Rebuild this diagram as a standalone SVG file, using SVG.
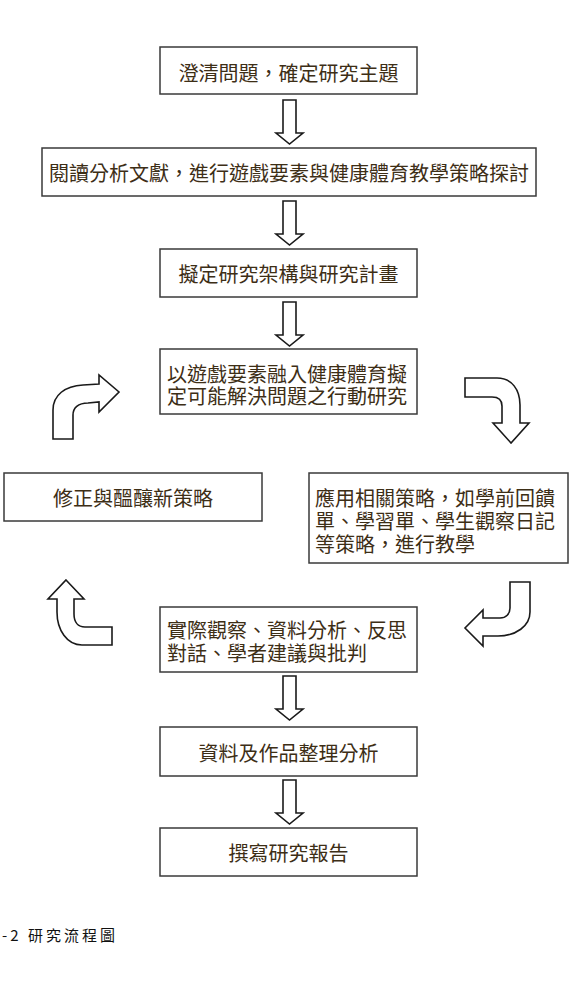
<svg xmlns="http://www.w3.org/2000/svg" width="571" height="988" viewBox="0 0 571 988">
  <style>
    .box { fill: #ffffff; stroke: #3a3a3a; stroke-width: 1.5; }
    .lbl { font-family: "Noto Sans CJK TC", "Noto Sans CJK SC", sans-serif; font-size: 20px; fill: #3d2e16; }
    .mid { text-anchor: middle; dominant-baseline: central; }
    .row { dominant-baseline: central; }
    .arrow { fill: #ffffff; stroke: #1a1a1a; stroke-width: 1.6; stroke-linejoin: miter; }
    .cap { font-family: "Noto Sans CJK TC", "Noto Sans CJK SC", serif; font-size: 15px; fill: #111111; }
  </style>
  <defs>
    <!-- block arrow pointing down, origin at top centre of the shaft -->
    <path id="down" d="M-6.5,0 L6.5,0 L6.5,33 L13.5,33 L0,44 L-13.5,33 L-6.5,33 Z"/>
  </defs>
  <rect width="571" height="988" fill="#ffffff"/>

  <g id="connectors">
    <use href="#down" class="arrow" x="289.5" y="100"/>
    <use href="#down" class="arrow" x="289.5" y="201"/>
    <use href="#down" class="arrow" x="289.5" y="302"/>
    <use href="#down" class="arrow" x="289.5" y="676"/>
    <use href="#down" class="arrow" x="289.5" y="780"/>
    <!-- loop arrows around the action-research cycle -->
    <path class="arrow" d="M465,378 L497,378 C512,378 520,390 520,405 L520,423 L529,423 L511,443 L493,423 L502,423 L502,406 C502,400 498,397 492,397 L465,397 Z"/>
    <path class="arrow" d="M510,582 L530,582 L530,612 C530,626 516,636 498,636 L483,636 L483,646 L465,628 L483,610 L483,618 L500,618 C506,618 510,614 510,608 Z"/>
    <path class="arrow" d="M66,580 L84,599 L74,599 L74,614 C74,622 78,627 85,627 L112,627 L112,645 L82,645 C67,645 57,630 57,612 L57,599 L48,599 Z"/>
    <path class="arrow" d="M53,439 L53,410 C53,395 65,386 83,385 L99,384 L99,375 L119,392 L99,412 L99,402 L88,403 C78,403 73,408 73,415 L73,439 Z"/>
  </g>

  <g id="n1">
    <rect class="box" x="160" y="47" width="257" height="47"/>
    <text class="lbl mid" x="288.5" y="72">澄清問題，確定研究主題</text>
  </g>
  <g id="n2">
    <rect class="box" x="42" y="148" width="494" height="48"/>
    <text class="lbl mid" x="289" y="172">閱讀分析文獻，進行遊戲要素與健康體育教學策略探討</text>
  </g>
  <g id="n3">
    <rect class="box" x="160" y="249" width="257" height="48"/>
    <text class="lbl mid" x="288.5" y="273">擬定研究架構與研究計畫</text>
  </g>
  <g id="n4">
    <rect class="box" x="160" y="349" width="257" height="65"/>
    <text class="lbl row" x="167" y="373">以遊戲要素融入健康體育擬</text>
    <text class="lbl row" x="167" y="395">定可能解決問題之行動研究</text>
  </g>
  <g id="n5">
    <rect class="box" x="4" y="473" width="258" height="48"/>
    <text class="lbl mid" x="133" y="497">修正與醞釀新策略</text>
  </g>
  <g id="n6">
    <rect class="box" x="309" y="473" width="259" height="90"/>
    <text class="lbl row" x="315" y="497">應用相關策略，如學前回饋</text>
    <text class="lbl row" x="315" y="520">單、學習單、學生觀察日記</text>
    <text class="lbl row" x="315" y="543">等策略，進行教學</text>
  </g>
  <g id="n7">
    <rect class="box" x="160" y="607" width="257" height="65"/>
    <text class="lbl row" x="167" y="629">實際觀察、資料分析、反思</text>
    <text class="lbl row" x="167" y="652">對話、學者建議與批判</text>
  </g>
  <g id="n8">
    <rect class="box" x="160" y="727" width="257" height="49"/>
    <text class="lbl mid" x="288.5" y="752">資料及作品整理分析</text>
  </g>
  <g id="n9">
    <rect class="box" x="160" y="828" width="257" height="48"/>
    <text class="lbl mid" x="288.5" y="852">撰寫研究報告</text>
  </g>

  <text class="cap" x="2" y="941" letter-spacing="3">-2 研究流程圖</text>
</svg>
